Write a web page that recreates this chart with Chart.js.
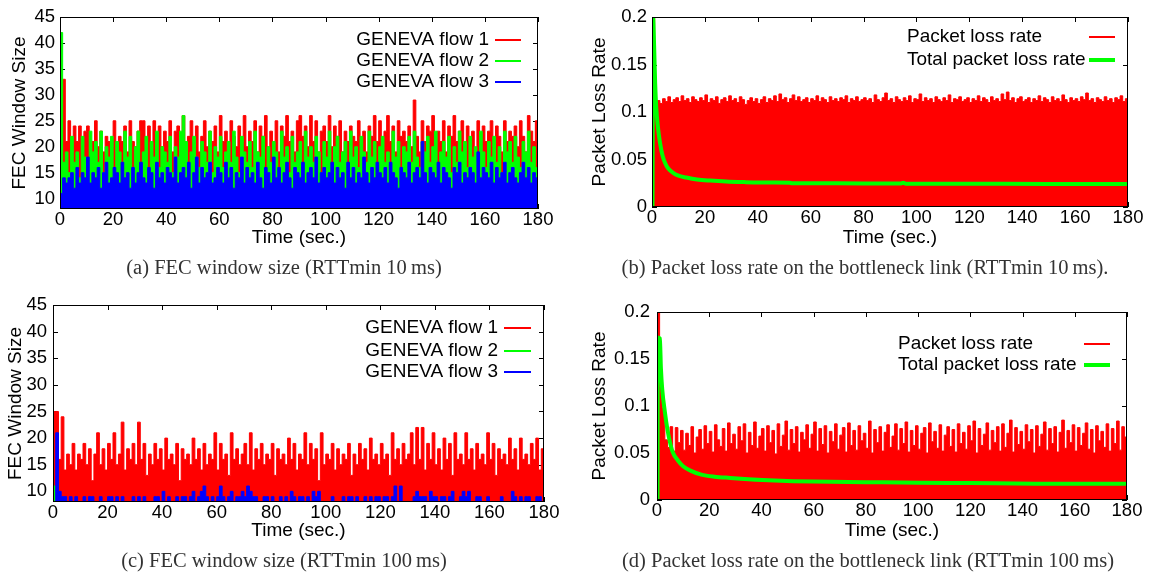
<!DOCTYPE html>
<html>
<head>
<meta charset="utf-8">
<script src="https://cdn.jsdelivr.net/npm/chart.js@4.4.1/dist/chart.umd.min.js"></script>
<style>
  html, body { margin: 0; padding: 0; background: #fff; }
  #page { position: relative; width: 1152px; height: 573px; overflow: hidden; }
  #page canvas { position: absolute; left: 0; top: 0; }
  .caption {
    position: absolute; transform: translate(-50%, -50%); white-space: nowrap;
    font-family: "Liberation Serif", "Times New Roman", serif; font-size: 20.5px; color: #333;
  }
</style>
</head>
<body>
<div id="page">
  <canvas id="chart-a" width="1152" height="573"></canvas>
  <canvas id="chart-b" width="1152" height="573"></canvas>
  <canvas id="chart-c" width="1152" height="573"></canvas>
  <canvas id="chart-d" width="1152" height="573"></canvas>
  <div class="caption" style="left:284px; top:267px">(a) FEC window size (RTTmin 10&thinsp;ms)</div>
  <div class="caption" style="left:865px; top:267px">(b) Packet loss rate on the bottleneck link (RTTmin 10&thinsp;ms).</div>
  <div class="caption" style="left:284px; top:560px">(c) FEC window size (RTTmin 100&thinsp;ms)</div>
  <div class="caption" style="left:868px; top:560px">(d) Packet loss rate on the bottleneck link (RTTmin 100&thinsp;ms)</div>
</div>
<script>
const RED = '#ff0000';
const GREEN = '#00ff00';
const BLUE = '#0000ff';

const timeTicks = [0, 20, 40, 60, 80, 100, 120, 140, 160, 180];
const windowTicks = [10, 15, 20, 25, 30, 35, 40, 45];
const lossTicks = [0, 0.05, 0.1, 0.15, 0.2];

// (a) FEC window size, RTTmin 10 ms, one value per second (t = 0..180)
const flow1A = [
  21, 33, 21, 25, 19, 24, 21, 24, 19, 23,
  24, 19, 21, 25, 20, 23, 19, 22, 21, 20,
  25, 19, 22, 21, 24, 19, 25, 21, 20, 23,
  25, 25, 21, 24, 19, 25, 22, 24, 20, 23,
  21, 25, 19, 23, 24, 21, 26, 20, 22, 25,
  21, 24, 19, 22, 25, 20, 23, 21, 24, 19,
  26, 21, 23, 19, 25, 22, 20, 24, 21, 26,
  20, 23, 21, 25, 19, 24, 22, 26, 20, 23,
  21, 25, 19, 24, 22, 26, 21, 23, 19, 25,
  26, 22, 24, 20, 26, 21, 25, 19, 23, 24,
  21, 26, 20, 24, 22, 25, 19, 23, 21, 24,
  22, 21, 25, 20, 23, 19, 24, 22, 26, 21,
  25, 20, 23, 26, 21, 24, 19, 25, 22, 23,
  21, 24, 20, 29, 22, 19, 25, 21, 24, 23,
  26, 20, 23, 21, 25, 19, 24, 22, 26, 21,
  23, 25, 20, 24, 21, 23, 19, 25, 22, 24,
  21, 23, 25, 20, 24, 22, 19, 25, 21, 23,
  22, 24, 20, 25, 22, 19, 26, 23, 21, 25,
  24
];
const flow2A = [
  42, 17, 19, 15, 22, 17, 19, 14, 22, 18,
  16, 23, 19, 21, 17, 23, 15, 20, 18, 22,
  16, 21, 19, 17, 23, 18, 22, 16, 20, 23,
  17, 19, 22, 15, 21, 18, 23, 16, 20, 19,
  17, 22, 15, 20, 18, 23, 26, 21, 16, 19,
  22, 18, 16, 21, 19, 17, 23, 15, 20, 18,
  22, 16, 19, 21, 17, 23, 18, 15, 22, 19,
  17, 21, 16, 23, 19, 18, 22, 15, 20, 17,
  21, 19, 16, 23, 18, 20, 15, 22, 17, 19,
  21, 16, 23, 18, 20, 17, 22, 19, 15, 21,
  18, 23, 16, 20, 22, 17, 19, 21, 15, 23,
  18, 20, 16, 22, 19, 17, 23, 18, 21, 16,
  20, 22, 17, 19, 15, 23, 18, 21, 16, 20,
  19, 22, 17, 23, 18, 16, 21, 19, 22, 17,
  20, 23, 16, 19, 21, 18, 22, 15, 20, 17,
  23, 19, 21, 16, 22, 18, 20, 17, 23, 19,
  16, 21, 18, 22, 17, 20, 15, 23, 19, 21,
  17, 22, 18, 16, 21, 19, 23, 17, 20, 16,
  20
];
const flow3A = [
  11, 14, 13, 14, 15, 12, 16, 13, 15, 14,
  18, 13, 15, 14, 16, 12, 15, 17, 13, 14,
  16, 15, 13, 17, 14, 15, 12, 16, 13, 15,
  17, 14, 13, 16, 15, 12, 17, 14, 15, 13,
  16, 15, 14, 18, 13, 15, 16, 14, 17, 12,
  15, 18, 13, 16, 14, 15, 17, 13, 14, 16,
  15, 13, 17, 14, 16, 12, 15, 14, 18, 13,
  16, 14, 15, 13, 17, 14, 12, 16, 15, 13,
  18, 14, 16, 13, 15, 17, 14, 12, 16, 15,
  14, 17, 13, 15, 16, 14, 18, 13, 15, 16,
  14, 15, 17, 13, 16, 14, 15, 12, 17, 14,
  16, 13, 15, 14, 18, 15, 13, 16, 14, 17,
  15, 14, 16, 13, 17, 15, 14, 12, 16, 15,
  14, 17, 13, 15, 16, 14, 21, 15, 13, 16,
  15, 14, 17, 13, 16, 15, 14, 12, 16, 15,
  17, 13, 15, 14, 16, 15, 13, 19, 14, 16,
  15, 14, 17, 13, 16, 14, 15, 17, 13, 15,
  16, 14, 13, 15, 17, 14, 16, 13, 15, 14,
  13
];

// (b) packet loss rate, RTTmin 10 ms
const lossB = [
  0.2, 0.108, 0.112, 0.109, 0.114, 0.111, 0.116, 0.110, 0.113, 0.115,
  0.111, 0.117, 0.112, 0.114, 0.110, 0.116, 0.113, 0.111, 0.115, 0.112,
  0.118, 0.110, 0.114, 0.112, 0.116, 0.109, 0.113, 0.115, 0.111, 0.117,
  0.112, 0.114, 0.110, 0.116, 0.113, 0.108, 0.112, 0.115, 0.111, 0.114,
  0.109, 0.113, 0.116, 0.110, 0.114, 0.112, 0.117, 0.111, 0.119, 0.113,
  0.115, 0.110, 0.114, 0.118, 0.112, 0.116, 0.111, 0.113, 0.115, 0.110,
  0.114, 0.112, 0.117, 0.111, 0.115, 0.113, 0.110, 0.116, 0.112, 0.114,
  0.111, 0.115, 0.113, 0.117, 0.110, 0.114, 0.112, 0.116, 0.111, 0.113,
  0.115, 0.112, 0.114, 0.110, 0.118, 0.113, 0.111, 0.115, 0.120, 0.112,
  0.114, 0.110, 0.116, 0.113, 0.111, 0.115, 0.112, 0.117, 0.110, 0.114,
  0.113, 0.119, 0.111, 0.115, 0.112, 0.114, 0.110, 0.116, 0.113, 0.111,
  0.115, 0.112, 0.118, 0.110, 0.114, 0.113, 0.116, 0.111, 0.113, 0.115,
  0.110, 0.114, 0.112, 0.117, 0.111, 0.115, 0.113, 0.110, 0.116, 0.112,
  0.114, 0.111, 0.119, 0.113, 0.121, 0.112, 0.115, 0.110, 0.114, 0.116,
  0.111, 0.113, 0.115, 0.110, 0.114, 0.112, 0.117, 0.111, 0.115, 0.113,
  0.110, 0.116, 0.112, 0.114, 0.111, 0.118, 0.113, 0.110, 0.115, 0.112,
  0.114, 0.111, 0.116, 0.113, 0.120, 0.112, 0.114, 0.110, 0.115, 0.113,
  0.111, 0.116, 0.112, 0.114, 0.110, 0.115, 0.113, 0.117, 0.111, 0.114,
  0.108
];
const totalTimeB = [0.2, 0.4, 0.8, 1.2, 1.6, 2.2, 3, 4, 5, 6, 8, 10, 13, 17, 22, 28, 35, 45, 52, 53, 70, 94, 95, 96, 120, 150, 180];
const totalLossB = [0, 0.2, 0.17, 0.13, 0.105, 0.085, 0.068, 0.054, 0.046, 0.041, 0.036, 0.033, 0.031, 0.029, 0.0278, 0.0268, 0.0262, 0.0257, 0.0255, 0.025, 0.0249, 0.0248, 0.0256, 0.0245, 0.0244, 0.0243, 0.0243];

// (c) FEC window size, RTTmin 100 ms
const flow1C = [
  25, 25, 16, 24, 14, 17, 15, 19, 14, 17,
  16, 19, 15, 18, 12, 17, 21, 15, 18, 14,
  19, 16, 21, 15, 17, 23, 14, 18, 16, 19,
  15, 23, 16, 19, 13, 17, 15, 19, 16, 18,
  14, 20, 16, 17, 15, 19, 12, 18, 16, 17,
  15, 20, 16, 18, 14, 19, 15, 17, 16, 21,
  14, 19, 16, 17, 13, 21, 16, 18, 15, 17,
  19, 15, 21, 14, 18, 16, 19, 15, 17, 16,
  19, 13, 18, 16, 17, 15, 20, 16, 19, 14,
  17, 16, 21, 15, 19, 16, 18, 12, 21, 15,
  17, 16, 19, 14, 18, 15, 17, 16, 19, 13,
  17, 15, 19, 16, 18, 14, 20, 16, 17, 15,
  19, 16, 17, 13, 21, 16, 18, 15, 19, 16,
  17, 21, 15, 22, 16, 22, 14, 19, 16, 21,
  15, 18, 14, 20, 16, 19, 13, 21, 16, 17,
  15, 21, 16, 18, 14, 19, 16, 17, 15, 21,
  16, 19, 13, 18, 16, 17, 15, 20, 16, 18,
  14, 20, 16, 17, 15, 19, 16, 20, 14, 18,
  13
];
const flow2TimeC = [0, 1, 180];
const flow2C = [11, 8, 8];
const flow3C = [
  8, 21, 10, 9, 9, 8, 9, 8, 9, 8,
  8, 9, 8, 9, 9, 8, 8, 9, 8, 8,
  9, 9, 8, 9, 8, 9, 8, 8, 8, 9,
  8, 9, 8, 9, 8, 8, 8, 9, 9, 8,
  10, 8, 9, 8, 8, 9, 8, 9, 9, 8,
  9, 10, 8, 9, 10, 11, 9, 8, 9, 8,
  9, 11, 9, 8, 9, 10, 8, 9, 9, 10,
  9, 11, 10, 9, 9, 8, 8, 9, 9, 8,
  9, 8, 8, 9, 8, 9, 8, 10, 9, 8,
  9, 9, 8, 9, 8, 10, 9, 10, 8, 8,
  8, 8, 9, 8, 8, 8, 9, 8, 9, 9,
  8, 9, 8, 8, 9, 8, 9, 8, 9, 9,
  8, 9, 9, 8, 9, 11, 8, 11, 8, 8,
  8, 8, 9, 10, 9, 9, 9, 8, 10, 9,
  9, 8, 9, 9, 8, 9, 10, 8, 8, 9,
  10, 9, 10, 8, 8, 9, 9, 8, 8, 9,
  8, 8, 8, 8, 9, 8, 8, 8, 10, 9,
  8, 9, 8, 9, 9, 8, 8, 9, 9, 8,
  8
];

// (d) packet loss rate, RTTmin 100 ms
const lossD = [
  0.2, 0.121, 0.098, 0.064, 0.056, 0.078, 0.052, 0.077, 0.061, 0.074,
  0.053, 0.071, 0.058, 0.078, 0.050, 0.067, 0.075, 0.054, 0.079, 0.060,
  0.073, 0.051, 0.080, 0.064, 0.057, 0.076, 0.052, 0.082, 0.060, 0.070,
  0.054, 0.078, 0.063, 0.081, 0.050, 0.072, 0.058, 0.083, 0.055, 0.068,
  0.076, 0.052, 0.079, 0.061, 0.074, 0.049, 0.081, 0.057, 0.069, 0.084,
  0.053, 0.075, 0.060, 0.078, 0.051, 0.072, 0.064, 0.080, 0.055, 0.070,
  0.083, 0.052, 0.076, 0.059, 0.079, 0.050, 0.073, 0.062, 0.081, 0.054,
  0.069, 0.077, 0.051, 0.082, 0.058, 0.074, 0.053, 0.079, 0.063, 0.071,
  0.055, 0.084, 0.050, 0.075, 0.061, 0.078, 0.052, 0.072, 0.080, 0.056,
  0.068, 0.081, 0.053, 0.076, 0.060, 0.083, 0.051, 0.074, 0.058, 0.079,
  0.054, 0.071, 0.077, 0.050, 0.082, 0.062, 0.073, 0.055, 0.080, 0.052,
  0.069, 0.078, 0.057, 0.075, 0.051, 0.081, 0.060, 0.072, 0.054, 0.079,
  0.063, 0.084, 0.050, 0.076, 0.058, 0.070, 0.082, 0.053, 0.074, 0.061,
  0.078, 0.052, 0.081, 0.056, 0.071, 0.085, 0.051, 0.077, 0.059, 0.073,
  0.054, 0.080, 0.062, 0.075, 0.050, 0.079, 0.057, 0.070, 0.083, 0.053,
  0.076, 0.060, 0.078, 0.051, 0.072, 0.085, 0.055, 0.074, 0.061, 0.080,
  0.052, 0.077, 0.058, 0.071, 0.082, 0.054, 0.075, 0.050, 0.079, 0.063,
  0.073, 0.056, 0.081, 0.052, 0.076, 0.060, 0.084, 0.053, 0.078, 0.067,
  0.048
];
const totalTimeD = [0.2, 0.3, 1.1, 1.5, 2, 3, 4, 5, 6, 8, 10, 13, 17, 22, 28, 35, 45, 60, 80, 100, 120, 145, 180];
const totalLossD = [0, 0.173, 0.172, 0.14, 0.118, 0.094, 0.075, 0.061, 0.051, 0.042, 0.036, 0.031, 0.027, 0.0248, 0.0235, 0.0222, 0.0208, 0.0196, 0.019, 0.0184, 0.018, 0.0174, 0.0172];

Chart.defaults.font.family = '"Liberation Sans", Arial, sans-serif';
Chart.defaults.color = '#000';

function perSecond(values) {
  return values.map((v, i) => ({ x: i, y: v }));
}

function paired(times, values) {
  return times.map((t, i) => ({ x: t, y: values[i] }));
}

function steps(label, values, color, order) {
  return {
    label: label, data: values, borderColor: color, backgroundColor: color,
    borderWidth: 1, pointRadius: 0, stepped: true, fill: 'start', order: order
  };
}

function curve(label, values, color, order) {
  return {
    label: label, data: values, borderColor: color, backgroundColor: color,
    borderWidth: 4, pointRadius: 0, fill: false, cubicInterpolationMode: 'monotone', order: order
  };
}

// gnuplot-like frame: inward ticks behind the data, border in front
const gnuFrame = {
  id: 'gnuFrame',
  beforeDatasetsDraw(chart) {
    const { ctx, chartArea: a, scales } = chart;
    const len = 5;
    ctx.save();
    ctx.strokeStyle = '#000';
    ctx.lineWidth = 1;
    ctx.beginPath();
    scales.x.ticks.forEach(t => {
      const px = Math.round(scales.x.getPixelForValue(t.value)) + 0.5;
      ctx.moveTo(px, a.bottom); ctx.lineTo(px, a.bottom - len);
      ctx.moveTo(px, a.top); ctx.lineTo(px, a.top + len);
    });
    scales.y.ticks.forEach(t => {
      const py = Math.round(scales.y.getPixelForValue(t.value)) + 0.5;
      ctx.moveTo(a.left, py); ctx.lineTo(a.left + len, py);
      ctx.moveTo(a.right, py); ctx.lineTo(a.right - len, py);
    });
    ctx.stroke();
    ctx.restore();
  },
  afterDatasetsDraw(chart) {
    const { ctx, chartArea: a } = chart;
    ctx.save();
    ctx.strokeStyle = '#000';
    ctx.lineWidth = 1;
    ctx.strokeRect(a.left + 0.5, a.top + 0.5, a.right - a.left - 1, a.bottom - a.top - 1);
    ctx.restore();
  }
};

// key with the text first and the line sample after it
const gnuKey = {
  id: 'gnuKey',
  afterDraw(chart, args, opts) {
    const ctx = chart.ctx;
    ctx.save();
    ctx.font = '19px "Liberation Sans", Arial, sans-serif';
    ctx.textBaseline = 'middle';
    ctx.textAlign = opts.align;
    chart.data.datasets.forEach((ds, i) => {
      const y = opts.rows[i];
      ctx.fillStyle = '#000';
      ctx.fillText(ds.label, opts.textX, y);
      ctx.strokeStyle = ds.borderColor;
      ctx.lineWidth = Math.max(2, ds.borderWidth);
      ctx.beginPath();
      ctx.moveTo(opts.lineFrom, y);
      ctx.lineTo(opts.lineTo, y);
      ctx.stroke();
    });
    ctx.restore();
  }
};

function makePanel(id, box, yMin, yMax, yTicks, yTitle, datasets, key) {
  return new Chart(document.getElementById(id), {
    type: 'line',
    data: { datasets: datasets },
    options: {
      responsive: false,
      animation: false,
      events: [],
      layout: {
        padding: {
          left: box.left - box.yWidth,
          right: 1152 - box.right,
          top: box.top,
          bottom: 573 - box.bottom - box.xHeight
        }
      },
      scales: {
        x: {
          type: 'linear', min: 0, max: 180,
          afterBuildTicks: s => { s.ticks = timeTicks.map(v => ({ value: v })); },
          afterFit: s => { s.height = box.xHeight; },
          grid: { display: false, drawTicks: false },
          border: { display: false },
          ticks: { padding: 0, autoSkip: false, maxRotation: 0, font: { size: 18.5 }, callback: v => String(v) },
          title: { display: true, text: 'Time (sec.)', padding: 0, font: { size: 19 } }
        },
        y: {
          type: 'linear', min: yMin, max: yMax,
          afterBuildTicks: s => { s.ticks = yTicks.map(v => ({ value: v })); },
          afterFit: s => { s.width = box.yWidth; },
          grid: { display: false, drawTicks: false },
          border: { display: false },
          ticks: { padding: box.tickPad, font: { size: 18.5 }, callback: v => String(v) },
          title: { display: true, text: yTitle, padding: 0, font: { size: 19 } }
        }
      },
      plugins: {
        legend: { display: false },
        tooltip: { enabled: false },
        gnuKey: key
      }
    },
    plugins: [gnuFrame, gnuKey]
  });
}

makePanel('chart-a',
  { left: 60, right: 538, top: 17, bottom: 209, yWidth: 51.8, xHeight: 40, tickPad: 5 },
  8, 45, windowTicks, 'FEC Window Size',
  [
    steps('GENEVA flow 1', perSecond(flow1A), RED, 3),
    steps('GENEVA flow 2', perSecond(flow2A), GREEN, 2),
    steps('GENEVA flow 3', perSecond(flow3A), BLUE, 1)
  ],
  { align: 'right', textX: 489, lineFrom: 495, lineTo: 521, rows: [40, 61, 82] });

makePanel('chart-b',
  { left: 652, right: 1128, top: 17, bottom: 207, yWidth: 63.4, xHeight: 42, tickPad: 5 },
  0, 0.2, lossTicks, 'Packet Loss Rate',
  [
    steps('Packet loss rate', perSecond(lossB), RED, 2),
    curve('Total packet loss rate', paired(totalTimeB, totalLossB), GREEN, 1)
  ],
  { align: 'left', textX: 907, lineFrom: 1089, lineTo: 1115, rows: [37, 60] });

makePanel('chart-c',
  { left: 53, right: 544, top: 305, bottom: 502, yWidth: 48.4, xHeight: 40, tickPad: 6 },
  8, 45, windowTicks, 'FEC Window Size',
  [
    steps('GENEVA flow 1', perSecond(flow1C), RED, 3),
    steps('GENEVA flow 2', paired(flow2TimeC, flow2C), GREEN, 2),
    steps('GENEVA flow 3', perSecond(flow3C), BLUE, 1)
  ],
  { align: 'right', textX: 498, lineFrom: 504, lineTo: 531, rows: [328, 351, 372] });

makePanel('chart-d',
  { left: 657, right: 1127, top: 312, bottom: 500, yWidth: 68.4, xHeight: 42, tickPad: 7 },
  0, 0.2, lossTicks, 'Packet Loss Rate',
  [
    steps('Packet loss rate', perSecond(lossD), RED, 2),
    curve('Total packet loss rate', paired(totalTimeD, totalLossD), GREEN, 1)
  ],
  { align: 'left', textX: 898, lineFrom: 1084, lineTo: 1110, rows: [344, 365] });
</script>
</body>
</html>
